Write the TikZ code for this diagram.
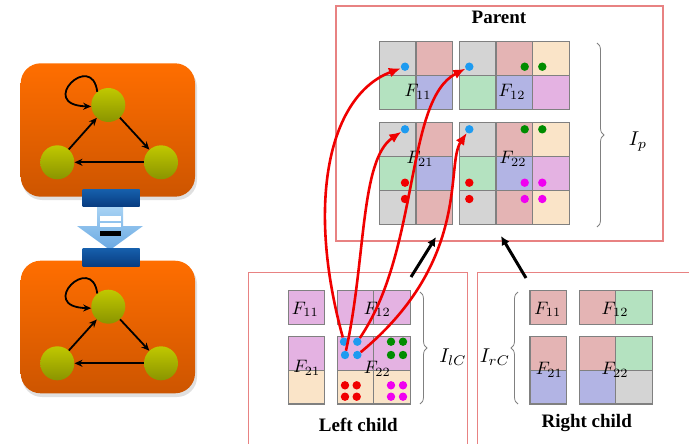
\documentclass[tikz,border=0pt]{standalone}
\usepackage{graphicx}
\usepackage{fontspec}
\setmainfont{Liberation Serif}
\usetikzlibrary{arrows.meta,decorations.pathreplacing}

% cell colours
\definecolor{cgray}{RGB}{212,212,212}
\definecolor{cpink}{RGB}{228,180,180}
\definecolor{cgreen}{RGB}{180,226,192}
\definecolor{cblue}{RGB}{178,180,228}
\definecolor{cpeach}{RGB}{250,228,200}
\definecolor{cviolet}{RGB}{228,178,226}
% dot colours
\definecolor{dblue}{RGB}{30,155,240}
\definecolor{dgreen}{RGB}{0,140,0}
\definecolor{dred}{RGB}{240,0,0}
\definecolor{dmag}{RGB}{240,0,240}
% frames and lines
\definecolor{framecol}{RGB}{232,130,130}
\definecolor{gridline}{RGB}{128,128,128}
% state-machine icon
\definecolor{orangeT}{RGB}{255,110,0}
\definecolor{orangeB}{RGB}{205,85,0}
\definecolor{ballT}{RGB}{192,200,0}
\definecolor{ballB}{RGB}{138,148,0}
\definecolor{barT}{RGB}{22,95,172}
\definecolor{barB}{RGB}{8,60,128}
\definecolor{arrT}{RGB}{170,212,244}
\definecolor{arrB}{RGB}{105,168,226}

% a block of coloured cells: x0, y0, cell width, cell height, list col/row/colour
\newcommand\drawcells[5]{%
  \foreach \cc/\rr/\col in {#5}
    \filldraw[cell, fill=\col] ({#1+\cc*#3},{#2+\rr*#4}) rectangle ++(#3,#4);}
% enlarged math labels
\newcommand\blocklabel[1]{\scalebox{1.8}{$#1$}}
\newcommand\setlabel[1]{\scalebox{2}{$#1$}}

\begin{document}
\begin{tikzpicture}[x=1pt,y=-1pt,
  cell/.style={draw=gridline, line width=1.2pt},
  panel/.style={draw=framecol, line width=1.1pt},
  dotb/.style={circle, fill=dblue, inner sep=0pt, minimum size=8.4pt},
  flabel/.style={inner sep=0pt},
  title/.style={font=\fontsize{19}{20}\selectfont\bfseries, inner sep=0pt},
  idx/.style={inner sep=0pt},
  bracestyle/.style={decorate, decoration={brace, amplitude=7pt}, draw=gray, line width=0.8pt},
  flow/.style={draw=dred, line width=2.6pt, -{Latex[length=12pt,width=10pt]}},
  upward/.style={line width=3pt, -{Latex[length=9pt,width=9pt]}},
  ball/.style={circle, minimum size=34pt, inner sep=0pt, top color=ballT, bottom color=ballB},
  sedge/.style={line width=1.8pt, -{Stealth[length=8pt,width=7pt]}}
]
\useasboundingbox (0,0) rectangle (689,444);
\clip (0,0) rectangle (689,444);

% ---------------- state-machine icons ----------------
\fill[black, opacity=0.12, rounded corners=20pt] (22,67) rectangle (197,200);
\shade[rounded corners=20pt, top color=orangeT, bottom color=orangeB] (20.7,63.3) rectangle (195,196.7);
\fill[black, opacity=0.12, rounded corners=20pt] (22,264) rectangle (197,397);
\shade[rounded corners=20pt, top color=orangeT, bottom color=orangeB] (20.7,260.7) rectangle (195,393.3);

% light blue down arrow with its markings
\shade[top color=arrT, bottom color=arrB] (97,205) -- (123,205) -- (123,226) -- (143,226)
  -- (110,250) -- (77,226) -- (97,226) -- cycle;
\fill[white] (99.5,216) rectangle (121,220.5);
\fill[white] (99.5,222.5) rectangle (121,226.5);
\fill[black] (100,230.5) rectangle (121,236);
% dark blue bars
\shade[top color=barT, bottom color=barB] (82.7,189.3) rectangle (139.6,206.7);
\shade[top color=barT, bottom color=barB] (82.7,248.3) rectangle (139.6,266.7);

% upper graph
\node[ball] (ta) at (108.3,105) {};
\node[ball] (tl) at (57.3,162.3) {};
\node[ball] (tr) at (161,162.3) {};
\draw[sedge] (tl) -- (ta);
\draw[sedge] (ta) -- (tr);
\draw[sedge] (tr) -- (tl);
\draw[sedge] (ta.130) .. controls (92,50) and (36,105) .. (ta.185);

% lower graph
\node[ball] (ba) at (108.3,306.7) {};
\node[ball] (bl) at (57.3,363.3) {};
\node[ball] (br) at (161,363.3) {};
\draw[sedge] (bl) -- (ba);
\draw[sedge] (ba) -- (br);
\draw[sedge] (br) -- (bl);
\draw[sedge] (ba.130) .. controls (92,252) and (36,307) .. (ba.185);

% ---------------- parent ----------------
\draw[panel] (336,6) rectangle (663,241);
\node[title] (ptitle) at (499,17) {Parent};

\drawcells{379.3}{41.5}{36.6}{33.9}{0/0/cgray,1/0/cpink,0/1/cgreen,1/1/cblue}
\drawcells{459.3}{41.5}{36.6}{33.9}{0/0/cgray,1/0/cpink,2/0/cpeach,0/1/cgreen,1/1/cblue,2/1/cviolet}
\drawcells{379.3}{122.3}{36.6}{34}{0/0/cgray,1/0/cpink,0/1/cgreen,1/1/cblue,0/2/cgray,1/2/cpink}
\drawcells{459.3}{122.3}{36.6}{34}{0/0/cgray,1/0/cpink,2/0/cpeach,0/1/cgreen,1/1/cblue,2/1/cviolet,0/2/cgray,1/2/cpink,2/2/cpeach}

\node[flabel] (pf11) at (418,92) {\blocklabel{F_{11}}};
\node[flabel] (pf12) at (512,92) {\blocklabel{F_{12}}};
\node[flabel] (pf21) at (420,159) {\blocklabel{F_{21}}};
\node[flabel] (pf22) at (513,159) {\blocklabel{F_{22}}};

\node[dotb] (pd11) at (405,66.7) {};
\node[dotb] (pd12) at (469.3,66.7) {};
\node[dotb] (pd21) at (405,129.3) {};
\node[dotb] (pd22) at (469.3,129.3) {};
\foreach \px/\py in {524.7/66.7, 542.3/66.7, 524.7/129.3, 542.3/129.3}
  \fill[dgreen] (\px,\py) circle (4.2);
\foreach \px/\py in {405/182.7, 405/199, 469.3/182.7, 469.3/199}
  \fill[dred] (\px,\py) circle (4.2);
\foreach \px/\py in {524.7/182.7, 542.3/182.7, 524.7/199, 542.3/199}
  \fill[dmag] (\px,\py) circle (4.2);

\draw[bracestyle] (597,43) -- (597,227);
\node[idx] (ip) at (638,142) {\setlabel{I_p}};

% ---------------- left child ----------------
\draw[panel] (248.3,272.3) rectangle (467.7,460);
\node[title] (ltitle) at (358.3,425) {Left child};

\drawcells{288.3}{290.7}{36}{33.4}{0/0/cviolet}
\drawcells{337.3}{290.7}{36.5}{33.4}{0/0/cviolet,1/0/cviolet}
\drawcells{288.3}{336.7}{36}{33.6}{0/0/cviolet,0/1/cpeach}
\drawcells{337.3}{336.7}{36.5}{33.6}{0/0/cviolet,1/0/cviolet,0/1/cpeach,1/1/cpeach}

\node[flabel] (lf11) at (305.3,309.3) {\blocklabel{F_{11}}};
\node[flabel] (lf12) at (377.3,309.3) {\blocklabel{F_{12}}};
\node[flabel] (lf21) at (306.7,368) {\blocklabel{F_{21}}};
\node[flabel] (lf22) at (377.3,369) {\blocklabel{F_{22}}};

\node[dotb] (cTL) at (344,341.7) {};
\node[dotb] (cTR) at (357.3,341.7) {};
\node[dotb] (cBL) at (345,355) {};
\node[dotb] (cBR) at (357.3,355) {};
\foreach \px/\py in {391/341.7, 403/341.7, 391/355, 403/355}
  \fill[dgreen] (\px,\py) circle (4.2);
\foreach \px/\py in {345/385.3, 356.7/385.3, 345/396.7, 356.7/396.7}
  \fill[dred] (\px,\py) circle (4.2);
\foreach \px/\py in {391/385.3, 403/385.3, 391/396.7, 403/396.7}
  \fill[dmag] (\px,\py) circle (4.2);

\draw[bracestyle] (420,292) -- (420,404);
\node[idx] (ilc) at (453,356.7) {\setlabel{I_{lC}}};

% ---------------- right child ----------------
\draw[panel] (477.3,272.3) rectangle (700,460);
\node[title] (rtitle) at (586.7,423.3) {Right child};

\drawcells{530}{290.7}{36.6}{33.4}{0/0/cpink}
\drawcells{579.3}{290.7}{36.5}{33.4}{0/0/cpink,1/0/cgreen}
\drawcells{530}{336.7}{36.6}{33.6}{0/0/cpink,0/1/cblue}
\drawcells{579.3}{336.7}{36.5}{33.6}{0/0/cpink,1/0/cgreen,0/1/cblue,1/1/cgray}

\node[flabel] (rf11) at (547.7,309.3) {\blocklabel{F_{11}}};
\node[flabel] (rf12) at (615,309.3) {\blocklabel{F_{12}}};
\node[flabel] (rf21) at (549.3,370) {\blocklabel{F_{21}}};
\node[flabel] (rf22) at (615,370) {\blocklabel{F_{22}}};

\draw[bracestyle] (518,404) -- (518,292);
\node[idx] (irc) at (495,356.7) {\setlabel{I_{rC}}};

% ---------------- merge arrows ----------------
\coordinate (lcFrom) at (411,277);
\coordinate (lcTo) at (436,237);
\coordinate (rcFrom) at (526,278);
\coordinate (rcTo) at (501,236);
\draw[upward] (lcFrom) -- (lcTo);
\draw[upward] (rcFrom) -- (rcTo);

% copied entries of the left child
\draw[flow] (cTL) .. controls (305,200) and (330,95) .. (pd11);
\draw[flow] (cBL) .. controls (366,260) and (360,160) .. (pd21);
\draw[flow] (cTR) .. controls (420,250) and (405,100) .. (pd12);
\draw[flow] (cBR) .. controls (472,260) and (445,165) .. (pd22);
\end{tikzpicture}
\end{document}
